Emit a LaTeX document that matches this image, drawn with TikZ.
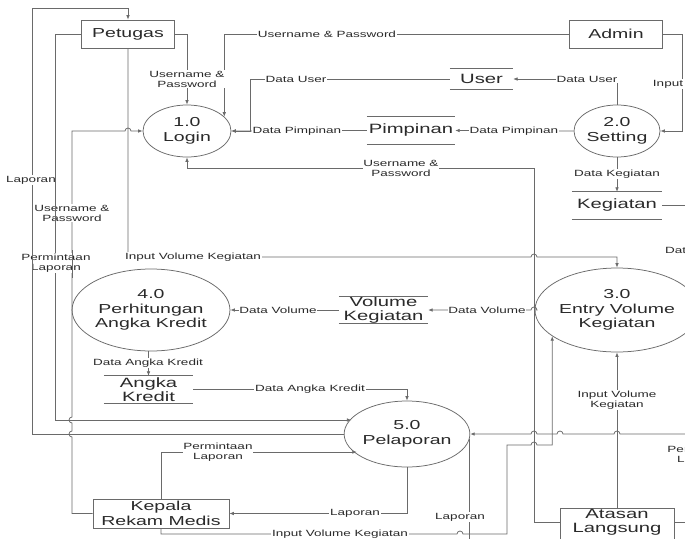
\documentclass[tikz,border=0pt]{standalone}
\usepackage{fontspec}
\setmainfont[FakeStretch=1.5]{Liberation Sans}
\usetikzlibrary{shapes.geometric,arrows.meta}

\definecolor{linegray}{HTML}{6A6A6A}
\definecolor{txt}{HTML}{2A2A2A}

% small line jumps where one flow crosses another
\newcommand\jumpR[2]{-- (#1-3,#2) arc[start angle=180,end angle=0,radius=3pt]}
\newcommand\jumpL[2]{-- (#1+3,#2) arc[start angle=0,end angle=180,radius=3pt]}
\newcommand\jumpU[2]{-- (#1,#2+3) arc[start angle=-90,end angle=-270,radius=3pt]}

\begin{document}
\begin{tikzpicture}[x=1pt,y=-1pt,
  line/.style={draw=linegray, line width=0.75pt},
  arr/.style={line, -{Latex[length=4.5pt,width=3.6pt]}},
  proc/.style={ellipse, draw=linegray, line width=0.75pt, inner sep=0pt,
    align=center, text=txt, font=\fontsize{13}{14.5}\selectfont},
  ent/.style={rectangle, draw=linegray, line width=0.75pt, inner sep=0pt,
    align=center, text=txt, font=\fontsize{13}{15}\selectfont},
  store/.style={inner sep=0pt, align=center, text=txt,
    font=\fontsize{13.5}{14}\selectfont},
  lbl/.style={fill=white, inner sep=0.8pt, align=center, text=txt,
    font=\fontsize{9}{10}\selectfont},
]
\fill[white] (0,0) rectangle (685,538);
\useasboundingbox (0,0) rectangle (685,538);

% ---------- external entities ----------
\node[ent, minimum width=93, minimum height=28] (petugas) at (128,34) {Petugas};
\node[ent, minimum width=93, minimum height=28] (admin) at (616,34) {Admin};
\node[ent, minimum width=136, minimum height=29] (kepala) at (161,513.5) {Kepala\\Rekam Medis};
\node[ent, minimum width=114, minimum height=44, anchor=north] (atasan) at (617,508) {};
\node[store] (atasantext) at (617,522) {Atasan\\Langsung};

% ---------- processes ----------
\node[proc, minimum width=88, minimum height=52] (login) at (187,131) {1.0\\Login};
\node[proc, minimum width=86, minimum height=52] (setting) at (617,131) {2.0\\Setting};
\node[proc, minimum width=134, minimum height=84] (p3) at (617,310) {3.0\\Entry Volume\\Kegiatan};
\node[proc, minimum width=138, minimum height=82] (p4) at (151,310) {4.0\\Perhitungan\\Angka Kredit};
\node[proc, minimum width=107, minimum height=66] (p5) at (407,434) {5.0\\Pelaporan};

% ---------- data stores ----------
\node[store, minimum width=63, minimum height=20] (user) at (481.5,79) {User};
\node[store, minimum width=88, minimum height=27] (pimpinan) at (411,130.5) {Pimpinan};
\node[store, minimum width=90, minimum height=27] (kegiatan) at (617,205.5) {Kegiatan};
\node[store, minimum width=89, minimum height=26] (volume) at (383.5,310) {Volume\\Kegiatan};
\node[store, minimum width=89, minimum height=27] (angka) at (148.5,389.5) {Angka\\Kredit};
\foreach \s in {user,pimpinan,kegiatan,volume,angka}
  \draw[line] (\s.north west) -- (\s.north east) (\s.south west) -- (\s.south east);

% ends of flows that leave the sheet
\coordinate (offKeg) at (700,205.5);
\coordinate (offPel) at (700,434);
\coordinate (offAtas) at (700,522);
\coordinate (offLap) at (460,550);

% ---------- flows ----------
\draw[arr] (petugas.east) -| (login.north);
\draw[arr] (admin.west) -| (login.21);
\draw[arr] (admin.east) -- ++(19,0) |- (setting.east);
\draw[arr] (setting.north) |- (user.east);
\draw[arr] (user.west) -| (250,131) -- (login.east);
\draw[arr] (setting.west) -- (pimpinan.east);
\draw[arr] (pimpinan.west) -- (login.east);
\draw[arr] (setting.south) -- (kegiatan.north);
\draw[line] (kegiatan.east) -- (offKeg);
\draw[arr] (atasan.west |- 0,522) -| (534,168) -| (login.south);
\draw[arr] (petugas.south) -- (128,257) \jumpR{534}{257} -| (p3.north);
\draw[arr] (p3.west) \jumpL{534}{310} -- (volume.east);
\draw[arr] (volume.west) -- (p4.east);
\draw[arr] (angka.north |- p4.south) -- (angka.north);
\draw[arr] (angka.east) -| (p5.north);
\draw[arr] (petugas.west) -| (55,420) -- (p5.164 |- 0,420);
\draw[arr] (p5.west) -- (32,434) -- (32,8) -| (petugas.north);
\draw[arr] (kepala.west) -- (72,513.5) \jumpU{72}{434} \jumpU{72}{420}
  -- (72,131) \jumpR{128}{131} -- (login.west);
\draw[arr] (kepala.north) |- (p5.202 |- 0,452);
\draw[arr] (p5.south) |- (kepala.east);
\draw[arr] (kepala.south) -- (161,534) \jumpR{460}{534} -- (507,534) -- (507,445)
  \jumpR{534}{445} -| (p3.202);
\draw[line] (p5.-5) -- (p5.-5 |- offLap);
\draw[arr] (offPel) \jumpL{617}{434} \jumpL{560}{434} \jumpL{534}{434} -- (p5.east);
\draw[arr] (atasan.north) -- (p3.south);
\draw[line] (atasan.east |- 0,522) -- (offAtas);

% ---------- flow labels ----------
\node[lbl] (t1) at (187,79) {Username \&\\Password};
\node[lbl] (t2) at (327,34) {Username \& Password};
\node[lbl] (t3) at (668,84) {Input};
\node[lbl] (t4) at (587,79) {Data User};
\node[lbl] (t5) at (296,79) {Data User};
\node[lbl] (t6) at (514,131) {Data Pimpinan};
\node[lbl] (t7) at (297,131) {Data Pimpinan};
\node[lbl] (t8) at (617,174) {Data Kegiatan};
\node[lbl, anchor=west] (t9) at (664,250) {Data};
\node[lbl] (t10) at (401,168) {Username \&\\Password};
\node[lbl] (t11) at (193,257) {Input Volume Kegiatan};
\node[lbl] (t12) at (487,310) {Data Volume};
\node[lbl] (t13) at (278,310) {Data Volume};
\node[lbl] (t14) at (148,363) {Data Angka Kredit};
\node[lbl] (t15) at (310,389) {Data Angka Kredit};
\node[lbl] (t16) at (31,180) {Laporan};
\node[lbl] (t17) at (72,213) {Username \&\\Password};
\node[lbl] (t18) at (56,263) {Permintaan\\Laporan};
\node[lbl] (t19) at (218,452) {Permintaan\\Laporan};
\node[lbl] (t20) at (355,513) {Laporan};
\node[lbl] (t21) at (460,517) {Laporan};
\node[lbl] (t22) at (340,534) {Input Volume Kegiatan};
\node[lbl] (t23) at (617,400) {Input Volume\\Kegiatan};
\node[lbl] (t24) at (702,455) {Permintaan\\Laporan};

% neighbouring flows stay visible through the side labels
\draw[line] (55,168) -- (55,230);
\draw[line] (32,250) -- (32,278) (72,250) -- (72,278);
\end{tikzpicture}
\end{document}
